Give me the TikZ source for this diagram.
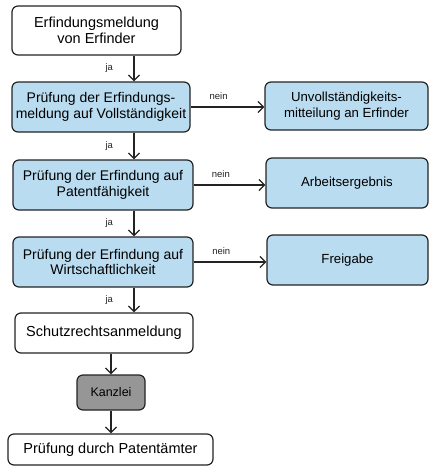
\documentclass[tikz,border=0pt]{standalone}
\usepackage{fontspec}
\setmainfont{Liberation Sans}
\usetikzlibrary{arrows.meta, positioning}
\definecolor{boxblue}{RGB}{185, 220, 240}
\definecolor{boxgray}{RGB}{150, 150, 150}
\definecolor{linegray}{RGB}{35, 35, 35}

\begin{document}
\begin{tikzpicture}[x=1pt,y=-1pt,
          box/.style={draw=linegray,line width=1.2pt,rounded corners=6pt,
                      fill=white,align=center,inner sep=2pt,
                      font=\fontsize{14.5}{16}\selectfont},
          bluebox/.style={box,fill=boxblue,font=\fontsize{14}{15.5}\selectfont},
          sidebox/.style={bluebox,font=\fontsize{13.2}{15.5}\selectfont},
          arr/.style={-{Straight Barb[length=5.5pt,width=11pt]},line width=1.3pt,linegray},
          lbl/.style={font=\fontsize{9.5}{10}\selectfont,text=linegray}]
        \useasboundingbox (0,0) rectangle (430,467);
        \coordinate (spine) at (134,0);
        % main column
        \node[box,minimum width=169pt,minimum height=49pt](erf) at (96.5,30.5){
          Erfindungsmeldung\\von Erfinder};
        \node[bluebox,minimum width=178pt,minimum height=50pt](pv) at (101,107){
          Prüfung der Erfindungs-\\meldung auf Vollständigkeit};
        \node[bluebox,minimum width=180pt,minimum height=50pt](pp) at (103,185){
          Prüfung der Erfindung auf\\Patentfähigkeit};
        \node[bluebox,minimum width=180pt,minimum height=50pt](pw) at (103,262){
          Prüfung der Erfindung auf\\Wirtschaftlichkeit};
        \node[box,minimum width=178pt,minimum height=40pt](schutz) at (104,333){
          Schutzrechtsanmeldung};
        \node[box,fill=boxgray,minimum width=68pt,minimum height=35pt,
              font=\fontsize{12.5}{14}\selectfont](kanzlei) at (111,392.5){Kanzlei};
        \node[box,minimum width=205pt,minimum height=31pt](pa) at (110.5,449.5){
          Prüfung durch Patentämter};
        % side column
        \node[sidebox,minimum width=163pt,minimum height=48pt](unv) at (346.5,106){
          Unvollständigkeits-\\mitteilung an Erfinder};
        \node[sidebox,minimum width=162pt,minimum height=50pt](arb) at (347,183){
          Arbeitsergebnis};
        \node[sidebox,minimum width=161pt,minimum height=50pt](frei) at (347.5,260){
          Freigabe};
        % ja
        \draw[arr](erf.south -| spine)--node[lbl,left=17pt]{ja}(pv.north -| spine);
        \draw[arr](pv.south -| spine)--node[lbl,left=17pt]{ja}(pp.north -| spine);
        \draw[arr](pp.south -| spine)--node[lbl,left=17pt]{ja}(pw.north -| spine);
        \draw[arr](pw.south -| spine)--node[lbl,left=17pt]{ja}(schutz.north -| spine);
        % nein
        \draw[arr](pv.east)--node[lbl,above=3pt,pos=0.38]{nein}(pv.east -| unv.west);
        \draw[arr](pp.east)--node[lbl,above=3pt,pos=0.38]{nein}(pp.east -| arb.west);
        \draw[arr](pw.east)--node[lbl,above=3pt,pos=0.38]{nein}(pw.east -| frei.west);
        % kanzlei
        \draw[arr](schutz.south -| kanzlei)--(kanzlei.north);
        \draw[arr](kanzlei.south)--(pa.north -| kanzlei);
      \end{tikzpicture}
\end{document}
